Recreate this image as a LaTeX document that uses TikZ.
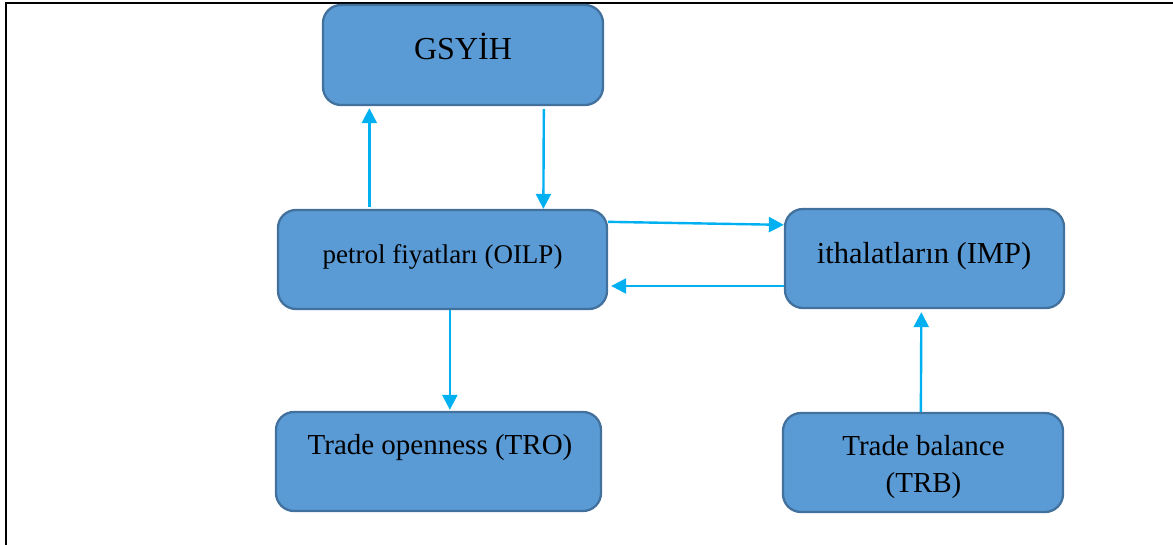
\documentclass[tikz,border=0pt]{standalone}
\usepackage{fontspec}
\setmainfont{Liberation Serif}
\usetikzlibrary{arrows.meta}
\definecolor{boxfill}{HTML}{5B9BD5}
\definecolor{boxline}{HTML}{41719C}
\definecolor{arrcol}{HTML}{00B0F0}
\begin{document}
\begin{tikzpicture}[x=1pt,y=-1pt,
  stepbox/.style={draw=boxline,fill=boxfill,line width=2.3pt,rounded corners=18pt,inner sep=0pt},
  arr/.style={draw=arrcol,line width=2.4pt,-{Triangle[length=15pt,width=15pt]}},
  lbl/.style={anchor=base,inner sep=0pt,text=black}]
\useasboundingbox (0,0) rectangle (1173,544);
\fill[white] (0,0) rectangle (1173,544);
\draw[line width=2.8pt] (6,546) -- (6,3) -- (1175,3);
% boxes
\node[stepbox,minimum width=280pt,minimum height=100pt] (g) at (463,55) {};
\node[stepbox,minimum width=329pt,minimum height=99pt] (p) at (442.5,259.5) {};
\node[stepbox,minimum width=279pt,minimum height=99pt] (i) at (924.5,258.5) {};
\node[stepbox,minimum width=325pt,minimum height=99pt] (t) at (438.5,461.5) {};
\node[stepbox,minimum width=280pt,minimum height=99pt] (b) at (923,462.5) {};
% texts
\node[lbl,font=\fontsize{32}{36}\selectfont] (gt) at (463,59) {GSYİH};
\node[lbl,font=\fontsize{27}{32}\selectfont] (pt) at (442.5,263) {petrol fiyatları (OILP)};
\node[lbl,font=\fontsize{30.5}{36}\selectfont] (it) at (924,263) {ithalatların (IMP)};
\node[lbl,font=\fontsize{29}{34}\selectfont] (tt) at (440,454) {Trade openness (TRO)};
\node[lbl,font=\fontsize{29}{34}\selectfont] (bt1) at (923.5,455) {Trade balance};
\node[lbl,font=\fontsize{29}{34}\selectfont] (bt2) at (923.5,492) {(TRB)};
% arrows
\draw[arr,shorten >=2pt] ([xshift=92.5pt,yshift=2pt]p.north west) -- ([xshift=47.5pt]g.south west);
\draw[arr,shorten <=3pt] ([xshift=222pt]g.south west) -- ([xshift=266.5pt]p.north west);
\draw[arr] ([yshift=-13pt]p.north east) -- ([yshift=-17pt]i.north west);
\draw[arr,shorten >=3pt] ([yshift=-27.5pt]i.west) -- ([yshift=-26.5pt]p.east);
\draw[arr,shorten >=1pt] ([xshift=173pt]p.south west) -- ([xshift=175pt]t.north west);
\draw[arr,shorten >=3pt] ([xshift=139pt]b.north west) -- ([xshift=137.5pt]i.south west);
\end{tikzpicture}
\end{document}
